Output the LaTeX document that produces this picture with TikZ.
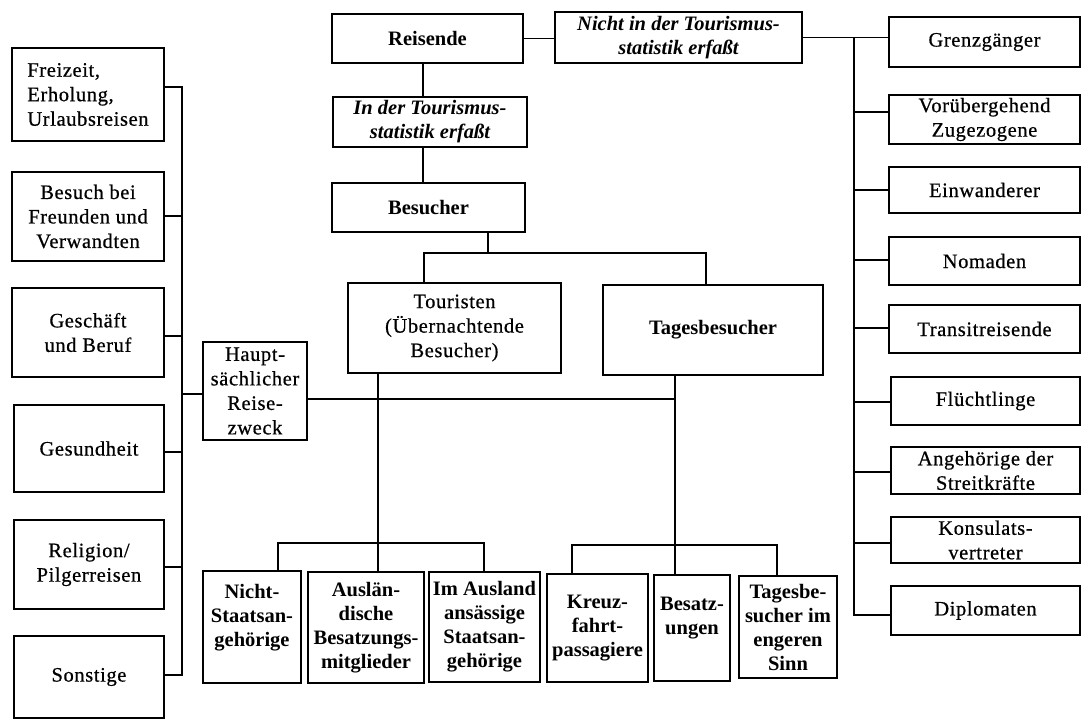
\documentclass[tikz,border=0pt]{standalone}
\usepackage{fontspec}
\setmainfont{Liberation Serif}[UprightFeatures={LetterSpace=3,FakeBold=0.6}]
\begin{document}
\begin{tikzpicture}[x=1pt,y=-1pt,
  box/.style={draw, line width=1.6pt, inner sep=1pt, align=center,
    font=\fontsize{20.5}{24.5}\selectfont},
  bbox/.style={box, font=\fontsize{20.5}{24}\selectfont\bfseries},
  ibox/.style={box, font=\fontsize{20.5}{24}\selectfont\bfseries\itshape},
  wh/.style 2 args={minimum width=#1pt, minimum height=#2pt},
  conn/.style={line width=1.6pt, line cap=rect}]
\useasboundingbox (0,0) rectangle (1082,724);

% ---- centre column
\node[bbox, wh={191}{49}] (reisende) at (427.5,38.5) {Reisende};
\node[ibox, wh={247}{51}] (nicht) at (678.5,37.5) {Nicht in der Tourismus-\\statistik erfaßt};
\node[ibox, wh={194}{50}] (inder) at (430,122) {In der Tourismus-\\statistik erfaßt};
\node[bbox, wh={193}{49}] (besucher) at (428.5,207.5) {Besucher};
\node[box, wh={213}{90}] (touristen) at (454.5,328) {Touristen\\(Übernachtende\\Besucher)};
\node[bbox, wh={220}{90}] (tages) at (713,330) {Tagesbesucher};
\node[box, wh={104}{98}] (haupt) at (255,391) {Haupt-\\sächlicher\\Reise-\\zweck};

% ---- left column
\node[box, wh={152}{93}, align=left] (freizeit) at (88,94.5) {Freizeit,\\Erholung,\\Urlaubsreisen};
\node[box, wh={152}{89}] (besuch) at (88,216.5) {Besuch bei\\Freunden und\\Verwandten};
\node[box, wh={152}{89}] (geschaeft) at (88,332.5) {Geschäft\\und Beruf};
\node[box, wh={150}{87}] (gesund) at (89,448.5) {Gesundheit};
\node[box, wh={150}{89}] (religion) at (89,564.5) {Religion/\\Pilgerreisen};
\node[box, wh={150}{82}] (sonstige) at (89,677) {Sonstige};

% ---- right column
\node[box, wh={191}{50}] (grenz) at (984.5,42) {Grenzgänger};
\node[box, wh={191}{49}] (voru) at (984.5,119.5) {Vorübergehend\\Zugezogene};
\node[box, wh={191}{46}] (einw) at (984.5,190) {Einwanderer};
\node[box, wh={191}{48}] (nomaden) at (984.5,261) {Nomaden};
\node[box, wh={191}{48}] (transit) at (984.5,329) {Transitreisende};
\node[box, wh={189}{48}] (fluecht) at (985.5,401) {Flüchtlinge};
\node[box, wh={189}{47}] (angeh) at (985.5,470.5) {Angehörige der\\Streitkräfte};
\node[box, wh={189}{46}] (konsul) at (985.5,540) {Konsulats-\\vertreter};
\node[box, wh={189}{49}] (diplo) at (985.5,610.5) {Diplomaten};

% ---- bottom row
\node[bbox, wh={98}{112}] (nstaats) at (252,627) {Nicht-\\Staatsan-\\gehörige\\\mbox{}};
\node[bbox, wh={116}{111}] (ausl) at (366,627.5) {Auslän-\\dische\\Besatzungs-\\mitglieder};
\node[bbox, wh={111}{110}] (imausl) at (484.5,627) {Im Ausland\\ansässige\\Staatsan-\\gehörige};
\node[bbox, wh={101}{108}] (kreuz) at (597.5,628) {Kreuz-\\fahrt-\\passagiere};
\node[bbox, wh={76}{106}] (besatz) at (692,628) {Besatz-\\ungen\\\mbox{}};
\node[bbox, wh={98}{102}] (tagesbe) at (788,627) {Tagesbe-\\sucher im\\engeren\\Sinn};

% ---- connectors: centre
\coordinate (vx) at (423,0);
\draw[conn] (reisende.south -| vx) -- (inder.north -| vx);
\draw[conn] (inder.south -| vx) -- (besucher.north -| vx);
\draw[conn] (reisende.east) -- (reisende.east -| nicht.west);
\coordinate (bj) at (488,253);
\coordinate (tl) at (424,253);
\coordinate (tr) at (706,253);
\draw[conn] (besucher.south -| bj) -- (bj);
\draw[conn] (touristen.north -| tl) -- (tl) -- (tr) -- (tages.north -| tr);

\coordinate (bl) at (378,543);
\coordinate (bl1) at (278,543);
\coordinate (bl3) at (484,543);
\draw[conn] (touristen.south -| bl) -- (ausl.north -| bl);
\draw[conn] (nstaats.north -| bl1) -- (bl1) -- (bl3) -- (imausl.north -| bl3);
\coordinate (br) at (675,545);
\coordinate (br1) at (572,545);
\coordinate (br3) at (777,545);
\draw[conn] (tages.south -| br) -- (besatz.north -| br);
\draw[conn] (kreuz.north -| br1) -- (br1) -- (br3) -- (tagesbe.north -| br3);

\coordinate (hj) at (675,399);
\draw[conn] ([yshift=-8pt]haupt.east) -- (hj);

% ---- connectors: left bus
\coordinate (lb0) at (182,87);
\coordinate (lb1) at (182,216);
\coordinate (lb2) at (182,336);
\coordinate (lbh) at (182,394);
\coordinate (lb3) at (182,452);
\coordinate (lb4) at (182,567);
\coordinate (lb5) at (182,675);
\draw[conn] (lb0) -- (lb5);
\draw[conn] (lb0) -- (lb0 -| freizeit.east);
\draw[conn] (lb1) -- (lb1 -| besuch.east);
\draw[conn] (lb2) -- (lb2 -| geschaeft.east);
\draw[conn] (lbh) -- (lbh -| haupt.west);
\draw[conn] (lb3) -- (lb3 -| gesund.east);
\draw[conn] (lb4) -- (lb4 -| religion.east);
\draw[conn] (lb5) -- (lb5 -| sonstige.east);

% ---- connectors: right bus
\coordinate (rb0) at (854,37.5);
\coordinate (rb1) at (854,112);
\coordinate (rb2) at (854,190);
\coordinate (rb3) at (854,260);
\coordinate (rb4) at (854,328);
\coordinate (rb5) at (854,402);
\coordinate (rb6) at (854,472);
\coordinate (rb7) at (854,543);
\coordinate (rb8) at (854,615);
\draw[conn] (nicht.east) -- (nicht.east -| grenz.west);
\draw[conn] (rb0) -- (rb8);
\draw[conn] (rb1) -- (rb1 -| voru.west);
\draw[conn] (rb2) -- (rb2 -| einw.west);
\draw[conn] (rb3) -- (rb3 -| nomaden.west);
\draw[conn] (rb4) -- (rb4 -| transit.west);
\draw[conn] (rb5) -- (rb5 -| fluecht.west);
\draw[conn] (rb6) -- (rb6 -| angeh.west);
\draw[conn] (rb7) -- (rb7 -| konsul.west);
\draw[conn] (rb8) -- (rb8 -| diplo.west);
\end{tikzpicture}
\end{document}
